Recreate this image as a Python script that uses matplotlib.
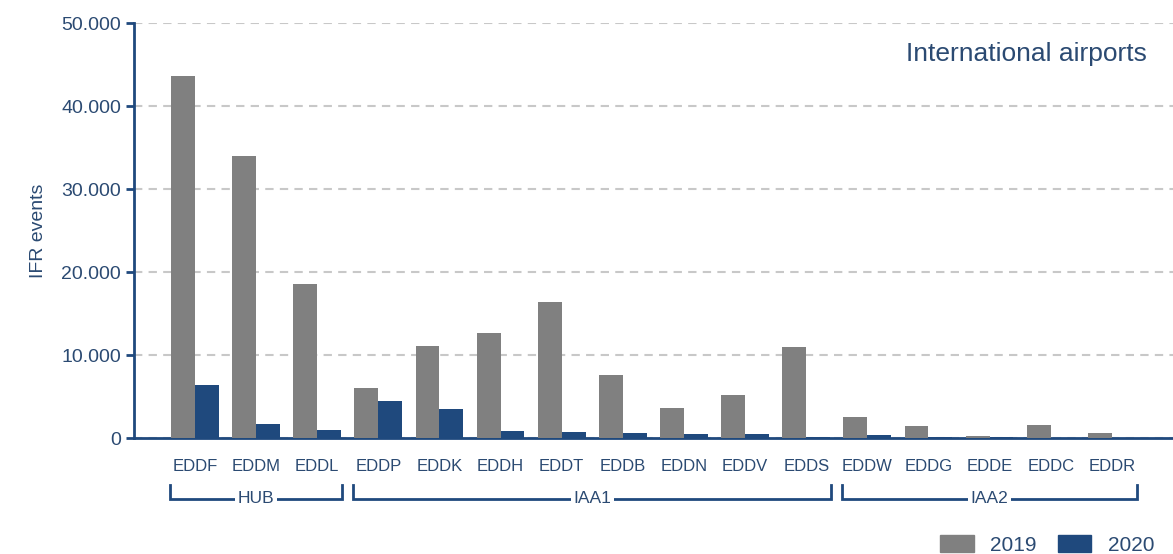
import matplotlib
matplotlib.use("Agg")
import matplotlib.pyplot as plt
import matplotlib.transforms as mtransforms
from matplotlib.patches import Patch

airports = ["EDDF", "EDDM", "EDDL", "EDDP", "EDDK", "EDDH", "EDDT", "EDDB",
            "EDDN", "EDDV", "EDDS", "EDDW", "EDDG", "EDDE", "EDDC", "EDDR"]
events_2019 = [43600, 34000, 18600, 6000, 11100, 12650, 16400, 7600,
               3600, 5200, 11000, 2500, 1450, 250, 1550, 600]
events_2020 = [6400, 1700, 1000, 4450, 3500, 850, 750, 650,
               500, 450, 200, 350, 200, 100, 50, 50]
groups = [("HUB", 0, 2), ("IAA1", 3, 10), ("IAA2", 11, 15)]
y_ticks = [0, 10000, 20000, 30000, 40000, 50000]
y_labels = ["0", "10.000", "20.000", "30.000", "40.000", "50.000"]

GRAY = "#808080"
BLUE = "#1f497d"
INK = "#2b4a72"
GRID = "#c8c8c8"

plt.rcParams["font.family"] = ["Liberation Sans", "DejaVu Sans"]

fig = plt.figure(figsize=(11.73, 5.54), dpi=100)
ax = fig.add_axes([0.114, 0.209, 0.886, 0.749])

x = list(range(len(airports)))
w = 0.39
ax.bar([i - w / 2 for i in x], events_2019, width=w, color=GRAY, zorder=3)
ax.bar([i + w / 2 for i in x], events_2020, width=w, color=BLUE, zorder=3)

ax.set_xlim(-1, 16)
ax.set_ylim(0, 50000)
ax.set_yticks(y_ticks)
ax.set_yticklabels(y_labels, color=INK, fontsize=14)
ax.set_xticks(x)
ax.set_xticklabels(airports, color=INK, fontsize=12)
ax.tick_params(axis="x", length=0, pad=15)
ax.tick_params(axis="y", length=6, width=2, color=BLUE, pad=3)
ax.yaxis.grid(True, linestyle=(0, (4, 3)), color=GRID, linewidth=1.5, zorder=0)
ax.set_axisbelow(True)
for s in ("top", "right"):
    ax.spines[s].set_visible(False)
for s in ("left", "bottom"):
    ax.spines[s].set_color(BLUE)
    ax.spines[s].set_linewidth(2)
ax.set_ylabel("IFR events", color=INK, fontsize=14, labelpad=10)

ax.text(0.975, 0.925, "International airports", transform=ax.transAxes,
        ha="right", va="center", color=INK, fontsize=19)

# group brackets under the airport labels
tr = mtransforms.blended_transform_factory(ax.transData, fig.transFigure)
yb, yt = 0.100, 0.125
for name, a, b in groups:
    x0, x1 = a - 0.41, b + 0.41
    ax.plot([x0, x0, x1, x1], [yt, yb, yb, yt], color=BLUE, lw=2,
            transform=tr, clip_on=False, solid_joinstyle="miter")
    ax.text((x0 + x1) / 2, yb, name, transform=tr, ha="center", va="center",
            color=INK, fontsize=12.5,
            bbox=dict(boxstyle="square,pad=0.15", fc="white", ec="none"))

handles = [Patch(color=GRAY, label="2019"), Patch(color=BLUE, label="2020")]
leg = fig.legend(handles=handles, loc="lower right", bbox_to_anchor=(1.0, -0.035),
                 ncol=2, frameon=False, fontsize=15, handlelength=1.6,
                 handleheight=0.85, columnspacing=1.0, handletextpad=0.8)
for t in leg.get_texts():
    t.set_color(INK)

fig.savefig("out.png", dpi=100, facecolor="white")
